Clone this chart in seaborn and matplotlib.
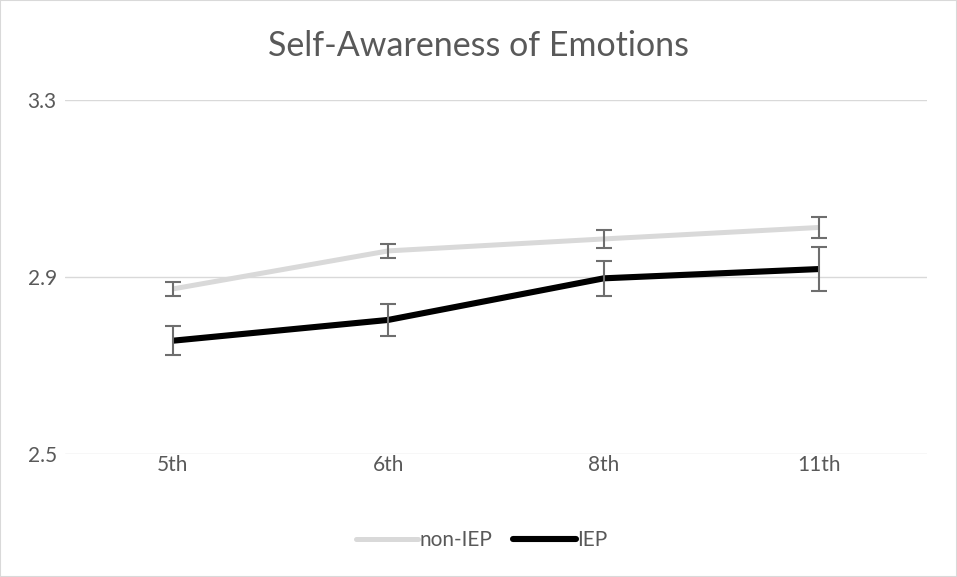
import matplotlib
matplotlib.use("Agg")
import matplotlib.pyplot as plt
import seaborn as sns
import pandas as pd
from matplotlib.patches import Rectangle
from matplotlib.lines import Line2D

grades = ["5th", "6th", "8th", "11th"]
non_iep = [2.873, 2.959, 2.986, 3.012]
non_iep_err = [0.015, 0.015, 0.020, 0.024]
iep = [2.756, 2.803, 2.897, 2.918]
iep_err = [0.033, 0.036, 0.040, 0.050]
yticks = [2.5, 2.9, 3.3]
title = "Self-Awareness of Emotions"

sns.set_theme(style="white")
plt.rcParams["font.family"] = ["Lato", "DejaVu Sans"]

df = pd.DataFrame({
    "grade": grades * 2,
    "value": non_iep + iep,
    "group": ["non-IEP"] * 4 + ["IEP"] * 4,
})

fig = plt.figure(figsize=(9.57, 5.77), dpi=100)
ax = fig.add_axes([65 / 957, 123 / 577, 862 / 957, 354 / 577])

palette = {"non-IEP": "#D9D9D9", "IEP": "#000000"}
sns.lineplot(data=df, x="grade", y="value", hue="group", palette=palette,
             ax=ax, linewidth=4, legend=False, sort=False,
             solid_capstyle="butt")
for line, lw in zip(ax.lines, [3.6, 4.4]):
    line.set_linewidth(lw)
    line.set_solid_joinstyle("round")

ax.errorbar(grades, non_iep, yerr=non_iep_err, fmt="none", ecolor="#6E6E6E",
            elinewidth=1.5, capsize=6, capthick=1.5, zorder=5)
ax.errorbar(grades, iep, yerr=iep_err, fmt="none", ecolor="#6E6E6E",
            elinewidth=1.5, capsize=6, capthick=1.5, zorder=5)

ax.set_xlim(-0.5, 3.5)
ax.set_ylim(2.5, 3.3)
ax.set_yticks(yticks)
ax.set_yticklabels([f"{t:.1f}" for t in yticks])
ax.yaxis.grid(True, color="#D9D9D9", linewidth=1)
ax.set_axisbelow(True)
for s in ax.spines.values():
    s.set_visible(False)
ax.tick_params(axis="both", length=0, labelsize=15, labelcolor="#595959")
ax.tick_params(axis="y", pad=6)
ax.tick_params(axis="x", pad=1)
ax.set_xlabel("")
ax.set_ylabel("")

fig.text(0.5, 1 - 46 / 577, title, ha="center", va="center",
         fontsize=24.5, color="#595959")

handles = [Line2D([], [], color="#D9D9D9", linewidth=3.6, solid_capstyle="round"),
           Line2D([], [], color="#000000", linewidth=4.4, solid_capstyle="round")]
fig.legend(handles, ["non-IEP", "IEP"], loc="center", ncol=2,
           bbox_to_anchor=(0.503, 37 / 577), frameon=False, fontsize=15,
           handlelength=3.0, handletextpad=0.05, columnspacing=1.0,
           labelcolor="#595959")

fig.patches.append(Rectangle((0, 0), 1, 1, transform=fig.transFigure,
                             fill=False, edgecolor="#D9D9D9", linewidth=1.5))

fig.savefig("out.png", dpi=100)
